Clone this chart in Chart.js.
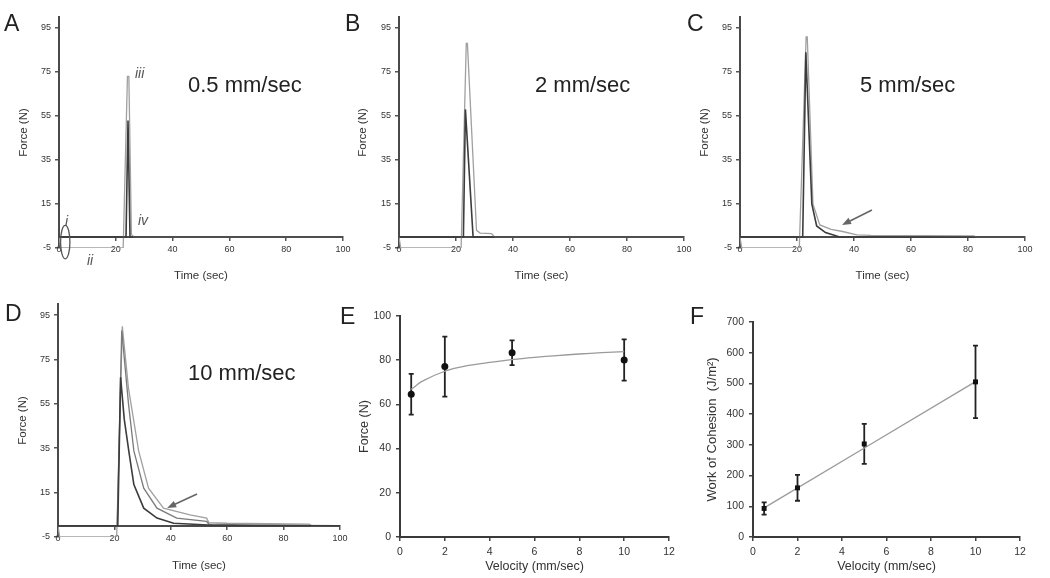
<!DOCTYPE html>
<html>
<head>
<meta charset="utf-8">
<script src="https://cdn.jsdelivr.net/npm/chart.js@4.4.1/dist/chart.umd.min.js"></script>
<style>
  body { margin: 0; background: #fff; width: 1050px; height: 578px; position: relative; overflow: hidden;
         font-family: "Liberation Sans", Arial, sans-serif; color: #222; }
  canvas { position: absolute; }
  .lbl { position: absolute; line-height: 1; white-space: nowrap; }
  .letter { font-size: 23px; color: #222; }
  .speed { font-size: 22px; color: #222; }
  .roman { font-size: 14px; font-style: italic; color: #555; }
</style>
</head>
<body>
<canvas id="chartA" width="360" height="290" style="left:0;top:0"></canvas>
<canvas id="chartB" width="360" height="290" style="left:340px;top:0"></canvas>
<canvas id="chartC" width="360" height="290" style="left:690px;top:0"></canvas>
<canvas id="chartD" width="360" height="288" style="left:0;top:290px"></canvas>
<canvas id="chartE" width="360" height="288" style="left:340px;top:290px"></canvas>
<canvas id="chartF" width="360" height="288" style="left:690px;top:290px"></canvas>

<div class="lbl letter" style="left:4px;top:12px">A</div>
<div class="lbl letter" style="left:345px;top:12px">B</div>
<div class="lbl letter" style="left:687px;top:12px">C</div>
<div class="lbl letter" style="left:5px;top:302px">D</div>
<div class="lbl letter" style="left:340px;top:305px">E</div>
<div class="lbl letter" style="left:690px;top:305px">F</div>

<div class="lbl speed" style="left:188px;top:74px">0.5 mm/sec</div>
<div class="lbl speed" style="left:535px;top:74px">2 mm/sec</div>
<div class="lbl speed" style="left:860px;top:74px">5 mm/sec</div>
<div class="lbl speed" style="left:188px;top:362px">10 mm/sec</div>

<div class="lbl roman" style="left:135px;top:66px">iii</div>
<div class="lbl roman" style="left:138px;top:213px">iv</div>
<div class="lbl roman" style="left:65px;top:214px">i</div>
<div class="lbl roman" style="left:87px;top:253px">ii</div>

<script>
// force ticks used on the four time traces
const forceTicks = [-5, 15, 35, 55, 75, 95];

// A - 0.5 mm/sec
const timeA_light = [0, 0.6, 22.6, 24.1, 24.6, 25.5, 26.5, 100];
const forceA_light = [0, -5, -5, 73, 73, 1, 0, 0];
const timeA_dark = [0, 23.6, 24.3, 25.0, 100];
const forceA_dark = [0, 0, 53, 0, 0];

// B - 2 mm/sec
const timeB_light = [0, 0.6, 21.8, 23.6, 24.0, 27.2, 28.5, 32.5, 33.5, 100];
const forceB_light = [0, -5, -5, 88, 88, 3, 1.8, 1.5, 0, 0];
const timeB_dark = [0, 22.6, 23.3, 26.0, 100];
const forceB_dark = [0, 0, 58, 0, 0];

// C - 5 mm/sec
const timeC_light = [0, 0.6, 20.8, 23.2, 23.6, 25.6, 28, 32, 36, 41, 46, 82, 83, 100];
const forceC_light = [0, -5, -5, 91, 91, 15, 5.5, 3.5, 2.5, 1, 0.7, 0.5, 0, 0];
const timeC_dark = [0, 22.0, 23.1, 25.2, 26.9, 30, 35, 100];
const forceC_dark = [0, 0, 84, 15, 5, 2, 0, 0];

// D - 10 mm/sec
const timeD_light = [0, 0.6, 20.8, 22.8, 25, 28.6, 32.1, 37.4, 46.8, 52.7, 53.5, 60, 89, 90, 100];
const forceD_light = [0, -5, -5, 90, 62, 33.8, 17, 8, 5, 3.5, 1.5, 1.2, 0.8, 0, 0];
const timeD_mid = [0, 21, 22.6, 25, 26.9, 30.4, 35.1, 42.1, 52.7, 53.5, 70, 100];
const forceD_mid = [0, 0, 88, 55, 33.8, 17, 8, 3.5, 2, 0.8, 0.3, 0];
const timeD_dark = [0, 21.2, 22.2, 23.5, 25.1, 26.9, 30.4, 35.1, 41, 55, 100];
const forceD_dark = [0, 0, 67, 48, 33.8, 18.6, 8, 3.5, 1.2, 0.3, 0];

// E and F - summary vs velocity
const velocity = [0.5, 2, 5, 10];
const peakForce = [64.6, 77.1, 83.4, 80.1];
const peakForceErr = [9.2, 13.6, 5.6, 9.3];
const fitVelocityE = [0.5, 1, 2, 3, 4, 5, 6, 7, 8, 9, 10];
const fitForceE = [66.8, 70.5, 75, 77.5, 79, 80.3, 81.3, 82.1, 82.8, 83.4, 83.9];
const workCohesion = [93, 160, 303, 505];
const workCohesionErr = [20, 42, 65, 118];
const fitVelocityF = [0.5, 10];
const fitWorkF = [95, 506];

// annotations in data units: [x1, y1, x2, y2] arrows, [cx, cy, rx, ry] ellipse
const arrowsC = [[46.3, 12.3, 35.8, 5.5]];
const arrowsD = [[49.3, 14.4, 38.7, 8.1]];
const ellipsesA = [[2.2, -2.3, 1.65, 7.6]];

const FONT = '"Liberation Sans", Arial, sans-serif';
const TEXT = '#333';

const toPoints = (xs, ys) => xs.map((v, i) => ({x: v, y: ys[i]}));

const sketchMarks = {
  id: 'sketchMarks',
  afterDatasetsDraw(chart, args, opts) {
    const {ctx, scales: {x, y}} = chart;
    ctx.save();
    ctx.strokeStyle = '#666';
    ctx.fillStyle = '#666';
    ctx.lineWidth = 1.6;
    (opts.arrows || []).forEach(a => {
      const x1 = x.getPixelForValue(a[0]), y1 = y.getPixelForValue(a[1]);
      const x2 = x.getPixelForValue(a[2]), y2 = y.getPixelForValue(a[3]);
      const ang = Math.atan2(y2 - y1, x2 - x1);
      ctx.beginPath();
      ctx.moveTo(x1, y1);
      ctx.lineTo(x2 - 5 * Math.cos(ang), y2 - 5 * Math.sin(ang));
      ctx.stroke();
      ctx.beginPath();
      ctx.moveTo(x2, y2);
      ctx.lineTo(x2 - 9 * Math.cos(ang) + 3.5 * Math.sin(ang), y2 - 9 * Math.sin(ang) - 3.5 * Math.cos(ang));
      ctx.lineTo(x2 - 9 * Math.cos(ang) - 3.5 * Math.sin(ang), y2 - 9 * Math.sin(ang) + 3.5 * Math.cos(ang));
      ctx.closePath();
      ctx.fill();
    });
    ctx.strokeStyle = '#555';
    ctx.lineWidth = 1.3;
    (opts.ellipses || []).forEach(e => {
      const cx = x.getPixelForValue(e[0]), cy = y.getPixelForValue(e[1]);
      const rx = Math.abs(x.getPixelForValue(e[0] + e[2]) - cx);
      const ry = Math.abs(y.getPixelForValue(e[1] + e[3]) - cy);
      ctx.beginPath();
      ctx.ellipse(cx, cy, rx, ry, 0, 0, Math.PI * 2);
      ctx.stroke();
    });
    ctx.restore();
  }
};

const errorBars = {
  id: 'errorBars',
  beforeDatasetsDraw(chart, args, opts) {
    if (!opts.values) return;
    const {ctx, scales: {x, y}} = chart;
    ctx.save();
    ctx.strokeStyle = '#222';
    ctx.lineWidth = 1.8;
    opts.x.forEach((v, i) => {
      const px = x.getPixelForValue(v);
      const top = y.getPixelForValue(opts.values[i] + opts.errs[i]);
      const bot = y.getPixelForValue(opts.values[i] - opts.errs[i]);
      ctx.beginPath();
      ctx.moveTo(px, top); ctx.lineTo(px, bot);
      ctx.moveTo(px - 2.5, top); ctx.lineTo(px + 2.5, top);
      ctx.moveTo(px - 2.5, bot); ctx.lineTo(px + 2.5, bot);
      ctx.stroke();
    });
    ctx.restore();
  }
};

function traceChart(id, box, area, titleGap, traces, marks) {
  const ctx = document.getElementById(id).getContext('2d');
  return new Chart(ctx, {
    type: 'scatter',
    data: {
      datasets: traces.map(t => ({
        data: toPoints(t.time, t.force),
        showLine: true,
        borderColor: t.color,
        borderWidth: t.width,
        pointRadius: 0,
        tension: 0,
      })),
    },
    plugins: [sketchMarks],
    options: {
      responsive: false,
      animation: false,
      layout: {
        padding: {left: 0, top: area.top - box.top, right: box.left + box.w - area.right, bottom: box.top + box.h - area.bottom},
      },
      plugins: {legend: {display: false}, tooltip: {enabled: false}, sketchMarks: marks},
      scales: {
        x: {
          type: 'linear', min: 0, max: 100, position: {y: 0},
          ticks: {stepSize: 20, color: TEXT, font: {family: FONT, size: 9}, padding: 4, maxRotation: 0},
          grid: {drawOnChartArea: false, tickLength: 3, color: '#555', lineWidth: 1.5},
          border: {color: '#4a4a4a', width: 2},
          title: {display: true, text: 'Time (sec)', color: TEXT, font: {family: FONT, size: 11.5}, padding: 0},
          afterFit: s => { s.height = titleGap + 6.9; },
        },
        y: {
          min: -5, max: 100,
          afterBuildTicks: s => { s.ticks = forceTicks.map(v => ({value: v})); },
          ticks: {color: TEXT, font: {family: FONT, size: 9}, padding: 4},
          grid: {drawOnChartArea: false, tickLength: 4, color: '#555', lineWidth: 1.5},
          border: {color: '#4a4a4a', width: 2},
          title: {display: true, text: 'Force (N)', color: TEXT, font: {family: FONT, size: 11.5}, padding: {top: area.titleX - box.left - 6.9, bottom: 0}},
          afterFit: s => { s.width = area.left - box.left; },
        },
      },
    },
  });
}

const LIGHT = '#a0a0a0', MID = '#7a7a7a', DARK = '#3c3c3c';

traceChart('chartA', {left: 0, top: 0, w: 360, h: 290}, {left: 59, right: 343, top: 17, bottom: 248, titleX: 24}, 39, [
  {time: timeA_dark, force: forceA_dark, color: DARK, width: 1.6},
  {time: timeA_light, force: forceA_light, color: LIGHT, width: 1.3},
], {ellipses: ellipsesA});

traceChart('chartB', {left: 340, top: 0, w: 360, h: 290}, {left: 399, right: 684, top: 17, bottom: 248, titleX: 363}, 39, [
  {time: timeB_dark, force: forceB_dark, color: DARK, width: 1.6},
  {time: timeB_light, force: forceB_light, color: LIGHT, width: 1.3},
], {});

traceChart('chartC', {left: 690, top: 0, w: 360, h: 290}, {left: 740, right: 1025, top: 17, bottom: 248, titleX: 705}, 39, [
  {time: timeC_dark, force: forceC_dark, color: DARK, width: 1.6},
  {time: timeC_light, force: forceC_light, color: LIGHT, width: 1.3},
], {arrows: arrowsC});

traceChart('chartD', {left: 0, top: 290, w: 360, h: 288}, {left: 58, right: 340, top: 304, bottom: 537, titleX: 23}, 40, [
  {time: timeD_dark, force: forceD_dark, color: DARK, width: 1.6},
  {time: timeD_mid, force: forceD_mid, color: MID, width: 1.3},
  {time: timeD_light, force: forceD_light, color: LIGHT, width: 1.3},
], {arrows: arrowsD});

function velocityChart(id, box, area, yMax, yStep, yTitle, yTitleSize, values, errs, fitX, fitY, marker) {
  const ctx = document.getElementById(id).getContext('2d');
  return new Chart(ctx, {
    type: 'scatter',
    data: {
      datasets: [
        {data: toPoints(velocity, values), pointStyle: marker, pointRadius: 3.5, backgroundColor: '#111', borderColor: '#111', borderWidth: 0},
        {data: toPoints(fitX, fitY), showLine: true, borderColor: '#9a9a9a', borderWidth: 1.3, pointRadius: 0, tension: 0.3},
      ],
    },
    plugins: [errorBars],
    options: {
      responsive: false,
      animation: false,
      layout: {padding: {left: 0, top: area.top - box.top, right: box.left + box.w - area.right, bottom: 0}},
      plugins: {legend: {display: false}, tooltip: {enabled: false}, errorBars: {x: velocity, values: values, errs: errs}},
      scales: {
        x: {
          type: 'linear', min: 0, max: 12, position: 'bottom',
          ticks: {stepSize: 2, color: TEXT, font: {family: FONT, size: 10.5}, padding: 5, maxRotation: 0},
          grid: {drawOnChartArea: false, tickLength: 4, color: '#444', lineWidth: 1.5},
          border: {color: '#3a3a3a', width: 2},
          title: {display: true, text: 'Velocity (mm/sec)', color: TEXT, font: {family: FONT, size: 12.5}, padding: {top: 0, bottom: 3.5}},
          afterFit: s => { s.height = box.top + box.h - area.bottom; },
        },
        y: {
          min: 0, max: yMax,
          ticks: {stepSize: yStep, color: TEXT, font: {family: FONT, size: 10.5}, padding: 5},
          grid: {drawOnChartArea: false, tickLength: 4, color: '#444', lineWidth: 1.5},
          border: {color: '#3a3a3a', width: 2},
          title: {display: true, text: yTitle, color: TEXT, font: {family: FONT, size: yTitleSize}, padding: {top: area.titleX - box.left - yTitleSize * 0.6, bottom: 0}},
          afterFit: s => { s.width = area.left - box.left; },
        },
      },
    },
  });
}

velocityChart('chartE', {left: 340, top: 290, w: 360, h: 288}, {left: 400, right: 669, top: 316, bottom: 537, titleX: 365},
  100, 20, 'Force (N)', 12.5, peakForce, peakForceErr, fitVelocityE, fitForceE, 'circle');

velocityChart('chartF', {left: 690, top: 290, w: 360, h: 288}, {left: 753, right: 1020, top: 322, bottom: 537, titleX: 712},
  700, 100, 'Work of Cohesion  (J/m\u00B2)', 13, workCohesion, workCohesionErr, fitVelocityF, fitWorkF, 'rect');
</script>
</body>
</html>
